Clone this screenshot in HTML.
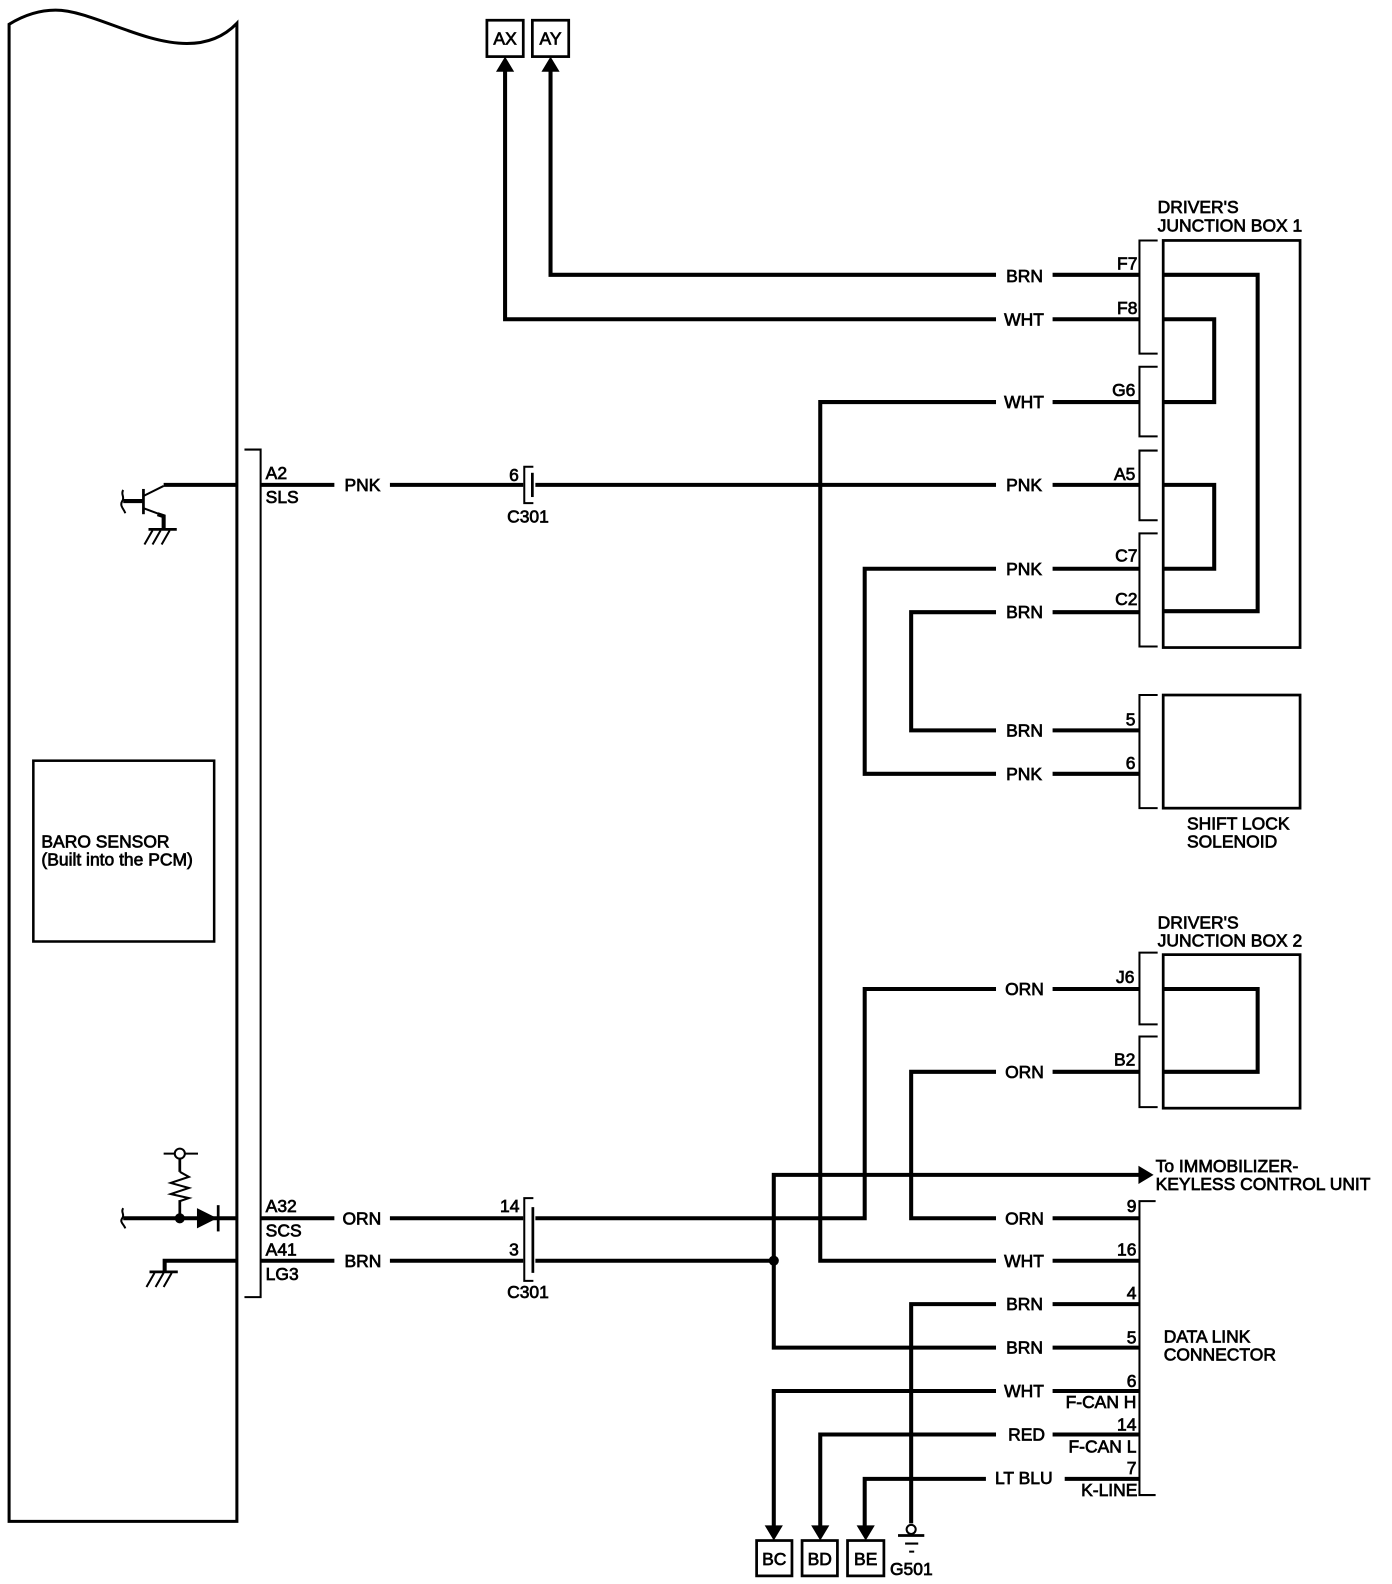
<!DOCTYPE html>
<html><head><meta charset="utf-8"><title>Diagram</title>
<style>
html,body{margin:0;padding:0;background:#fff;width:1392px;height:1584px;overflow:hidden}
svg{display:block}
text{font-family:"Liberation Sans",Arial,sans-serif;font-size:17.3px;fill:#000;stroke:#000;stroke-width:.7px}
.w{fill:none;stroke:#000;stroke-width:4;stroke-linejoin:miter}
.t{fill:none;stroke:#000;stroke-width:2}
.m{fill:none;stroke:#000;stroke-width:2.700}
.e{text-anchor:end}
.c{text-anchor:middle}
</style></head><body>
<svg width="1392" height="1584" viewBox="0 0 1378 1568" xmlns="http://www.w3.org/2000/svg">
<!-- PCM body -->
<path class="m" style="stroke-width:3" d="M9 1506H234.500V23C222 36 205 43 185 43C140 43 90 10 55 10C38 10 22 16 9 24Z"/>
<path class="t" d="M242 445H258V1284H242"/>
<rect x="33" y="753" width="179" height="179" class="m" style="stroke-width:2.500"/>
<text x="41" y="839">BARO SENSOR</text>
<text x="41" y="857">(Built into the PCM)</text>

<!-- transistor -->
<path class="w" d="M162 480H234M122 496H141"/>
<path class="t" d="M122 485C119 489 124 492 121 496C118 501 123 504 124 508"/>
<path class="m" d="M142 484V509"/>
<path class="t" d="M142 491L162 481M142 503L158 509"/>
<path class="w" d="M156 509L162 511V524"/>
<path class="m" d="M147 524H175"/>
<path class="t" d="M151 525L143 539M159 525L151 539M168 525L160 539"/>
<!-- pull up / diode -->
<circle cx="178" cy="1142" r="5" fill="#fff" stroke="#000" stroke-width="2"/>
<path class="t" d="M162 1142H173M183 1142H196"/>
<path class="m" d="M178 1147V1160M178 1188V1206"/>
<path class="t" d="M178 1160L187 1165L169 1171L187 1176L169 1182L187 1186L178 1189"/>
<circle cx="178" cy="1206" r="5"/>
<path class="w" d="M122 1206H234"/>
<path class="t" d="M122 1196C119 1200 124 1202 121 1206C118 1210 123 1212 124 1216"/>
<path d="M195 1196L215 1206L195 1216Z"/>
<path class="m" d="M216 1193V1219"/>
<path class="w" d="M234 1248H163V1260"/>
<path class="m" d="M148 1259H176"/>
<path class="t" d="M153 1260L145 1274M162 1260L154 1274M170 1260L162 1274"/>

<!-- left pin labels -->
<text x="263" y="474">A2</text><text x="263" y="498">SLS</text>
<text x="263" y="1200">A32</text><text x="263" y="1224">SCS</text>
<text x="263" y="1243">A41</text><text x="263" y="1267">LG3</text>
<text x="341" y="486">PNK</text><text x="339" y="1212">ORN</text><text x="341" y="1254">BRN</text>
<path class="w" d="M258 480H331M386 480H518M258 1206H331M386 1206H518M258 1248H331M386 1248H518"/>

<!-- C301 -->
<path class="t" d="M528 462H519V498H528"/>
<path class="m" d="M527 468V492"/>
<text x="504" y="476">6</text><text x="502" y="517">C301</text>
<path class="t" d="M528 1186H519V1268H528"/>
<path class="m" d="M527.500 1195V1260"/>
<text x="495" y="1200">14</text><text x="504" y="1243">3</text><text x="502" y="1285">C301</text>

<!-- AX AY -->
<rect x="482" y="20" width="36" height="36" class="m"/>
<rect x="527" y="20" width="36" height="36" class="m"/>
<text x="500" y="44" class="c">AX</text><text x="545" y="44" class="c">AY</text>
<path d="M500 56L491 71H509Z"/><path d="M545 56L536 71H554Z"/>
<path class="w" d="M500 68V316H986M545 68V272H986"/>

<!-- upper wires -->
<path class="w" d="M1042 272H1128M1042 316H1128M1042 398H1128M1042 480H1128M1042 563H1128M1042 606H1128M1042 723H1128M1042 766H1128"/>
<path class="w" d="M986 398H812V1248H986M530 480H986M986 563H856V766H986M986 606H902V723H986"/>
<text x="996" y="279">BRN</text><text x="994" y="322">WHT</text><text x="994" y="404">WHT</text><text x="996" y="486">PNK</text>
<text x="996" y="569">PNK</text><text x="996" y="612">BRN</text><text x="996" y="729">BRN</text><text x="996" y="772">PNK</text>

<!-- Junction box 1 -->
<text x="1146" y="211">DRIVER'S</text><text x="1146" y="229">JUNCTION BOX 1</text>
<rect x="1151.500" y="238" width="135.500" height="403" class="m"/>
<path class="t" d="M1146 238H1128V350H1146M1146 363H1128V432H1146M1146 446H1128V515H1146M1146 528H1128V640H1146"/>
<path class="w" d="M1151 272H1245V605H1151M1151 316H1202V398H1151M1151 480H1202V563H1151"/>
<text x="1126" y="267" class="e">F7</text><text x="1126" y="311" class="e">F8</text><text x="1124" y="392" class="e">G6</text>
<text x="1124" y="475" class="e">A5</text><text x="1126" y="556" class="e">C7</text><text x="1126" y="599" class="e">C2</text>

<!-- Solenoid -->
<rect x="1151.500" y="688" width="135.500" height="112" class="m"/>
<path class="t" d="M1146 688H1128V800H1146"/>
<text x="1124" y="718" class="e">5</text><text x="1124" y="761" class="e">6</text>
<text x="1175" y="821">SHIFT LOCK</text><text x="1175" y="839">SOLENOID</text>

<!-- Junction box 2 -->
<text x="1146" y="919">DRIVER'S</text><text x="1146" y="937">JUNCTION BOX 2</text>
<rect x="1151.500" y="945" width="135.500" height="152" class="m"/>
<path class="t" d="M1146 943H1128V1014H1146M1146 1026H1128V1096H1146"/>
<path class="w" d="M1151 979H1245V1061H1151"/>
<text x="1123" y="973" class="e">J6</text><text x="1124" y="1055" class="e">B2</text>
<path class="w" d="M1042 979H1128M1042 1061H1128"/>
<path class="w" d="M986 979H856V1206H530M986 1061H902V1206H986"/>
<text x="995" y="985">ORN</text><text x="995" y="1067">ORN</text>

<!-- immobilizer -->
<path class="w" d="M530 1248H766M764 1163H1130M766 1163V1334H986"/>
<circle cx="766" cy="1248" r="5"/>
<path d="M1142 1163L1127 1154V1172Z"/>
<text x="1144" y="1160">To IMMOBILIZER-</text><text x="1144" y="1178">KEYLESS CONTROL UNIT</text>

<!-- DLC -->
<path class="t" d="M1144 1189H1128V1480H1144"/>
<path class="w" d="M1042 1206H1128M1042 1248H1128M1042 1291H1128M1042 1334H1128M1042 1377H1128M1042 1420H1128M1054 1464H1128"/>
<text x="995" y="1212">ORN</text><text x="994" y="1254">WHT</text><text x="996" y="1297">BRN</text><text x="996" y="1340">BRN</text>
<text x="994" y="1383">WHT</text><text x="998" y="1426">RED</text><text x="985" y="1469">LT BLU</text>
<text x="1125" y="1200" class="e">9</text><text x="1125" y="1243" class="e">16</text><text x="1125" y="1286" class="e">4</text><text x="1125" y="1330" class="e">5</text>
<text x="1125" y="1373" class="e">6</text><text x="1125" y="1416" class="e">14</text><text x="1125" y="1459" class="e">7</text>
<text x="1125" y="1394" class="e">F-CAN H</text><text x="1125" y="1438" class="e">F-CAN L</text><text x="1126" y="1481" class="e">K-LINE</text>
<text x="1152" y="1329">DATA LINK</text><text x="1152" y="1347">CONNECTOR</text>

<!-- lower connectors -->
<path class="w" d="M986 1291H902V1508M986 1377H766V1512M986 1420H812V1512M976 1464H856V1512"/>
<path d="M766 1525L757 1510H775Z"/><path d="M812 1525L803 1510H821Z"/><path d="M857 1525L848 1510H866Z"/>
<rect x="749" y="1525" width="35" height="35" class="m"/>
<rect x="794" y="1525" width="35" height="35" class="m"/>
<rect x="839" y="1525" width="36" height="35" class="m"/>
<text x="766.500" y="1549" class="c">BC</text><text x="811.500" y="1549" class="c">BD</text><text x="857" y="1549" class="c">BE</text>
<circle cx="902" cy="1514" r="4.500" fill="#fff" stroke="#000" stroke-width="2"/>
<path class="m" d="M889 1520H915"/>
<path class="t" d="M896 1528H909M900 1536H905"/>
<text x="881" y="1559">G501</text>
</svg>
</body></html>
